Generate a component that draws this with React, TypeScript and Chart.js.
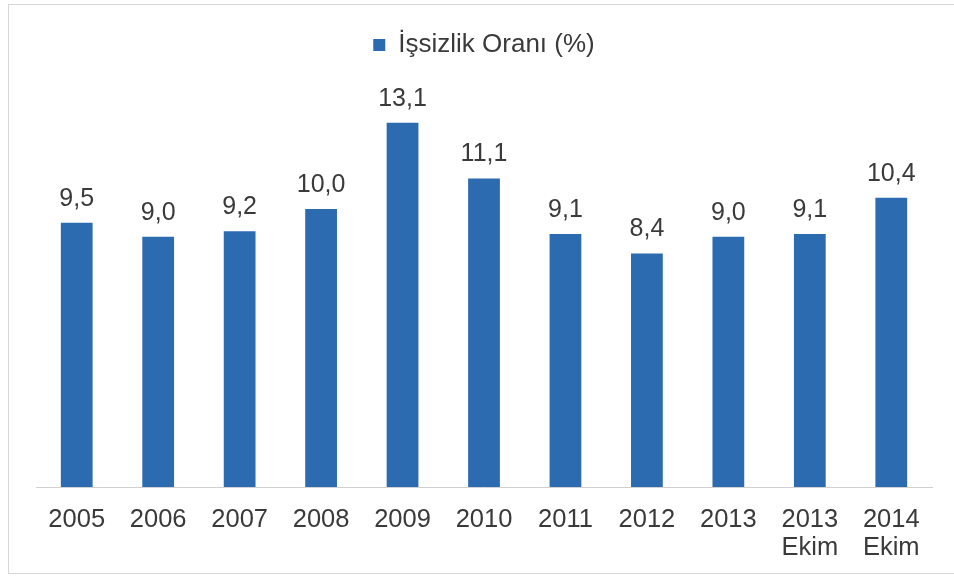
import React, { useEffect, useRef } from "react";
import { Chart, registerables } from "chart.js";

Chart.register(...registerables);

const categories: (string | string[])[] = ["2005", "2006", "2007", "2008", "2009", "2010", "2011", "2012", "2013", ["2013", "Ekim"], ["2014", "Ekim"]];
const values: number[] = [9.5, 9.0, 9.2, 10.0, 13.1, 11.1, 9.1, 8.4, 9.0, 9.1, 10.4];
const seriesName = "İşsizlik Oranı (%)";

const FONT = "'Liberation Sans', Arial, sans-serif";
const TEXT = "#3a3a3a";
const BAR = "#2D6BB0";

const dataLabels = {
  id: "dataLabels",
  afterDatasetsDraw(chart: any) {
    const { ctx } = chart;
    const meta = chart.getDatasetMeta(0);
    ctx.save();
    ctx.font = `25px ${FONT}`;
    ctx.fillStyle = TEXT;
    ctx.textAlign = "center";
    ctx.textBaseline = "alphabetic";
    meta.data.forEach((el: any, i: number) => {
      const v = values[i];
      ctx.fillText(v.toFixed(1).replace(".", ","), el.x, el.y - 17);
    });
    ctx.restore();
  },
};

export default function App() {
  const ref = useRef<HTMLCanvasElement | null>(null);
  useEffect(() => {
    document.body.style.margin = "0";
    const chart = new Chart(ref.current!, {
      type: "bar",
      data: {
        labels: categories as any,
        datasets: [
          {
            label: seriesName,
            data: values,
            backgroundColor: BAR,
            barPercentage: 0.39,
            categoryPercentage: 1,
          },
        ],
      },
      options: {
        animation: false,
        responsive: false,
        layout: { padding: { top: 22, left: 36, right: 22, bottom: 0 } },
        plugins: {
          legend: {
            position: "top",
            labels: {
              boxWidth: 12,
              boxHeight: 12,
              color: TEXT,
              font: { family: FONT, size: 26 },
              padding: 10,
            },
          },
          tooltip: { enabled: false },
        },
        scales: {
          x: {
            grid: { display: false, drawTicks: false },
            border: { display: true, color: "#d0d0d0", width: 1 },
            ticks: {
              color: TEXT,
              font: { family: FONT, size: 25.5, lineHeight: 1.1 },
              padding: 19,
              maxRotation: 0,
              autoSkip: false,
            },
            afterFit: (s: any) => {
              s.height = 90;
            },
          },
          y: {
            display: false,
            min: 0,
            max: 15.07,
          },
        },
      },
      plugins: [dataLabels],
    });
    return () => chart.destroy();
  }, []);
  return (
    <div style={{ position: "relative", width: 954, height: 577, background: "#fff" }}>
      <div
        style={{
          position: "absolute",
          left: 8,
          top: 4,
          width: 980,
          height: 570,
          border: "1px solid #d6d6d6",
          boxSizing: "border-box",
        }}
      />
      <canvas ref={ref} width={954} height={577} style={{ position: "absolute", left: 0, top: 0 }} />
    </div>
  );
}
